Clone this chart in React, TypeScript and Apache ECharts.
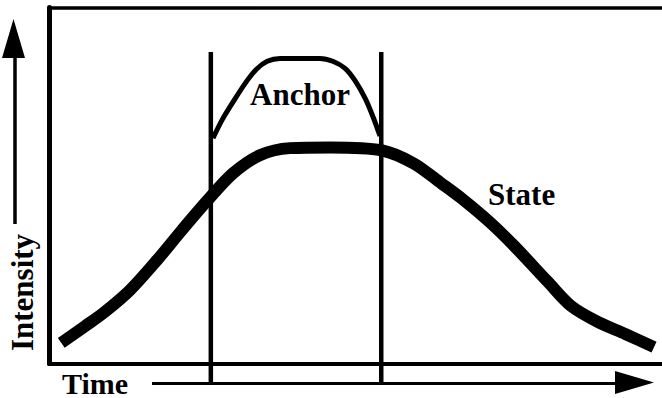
import React, { useEffect, useRef } from "react";
import * as echarts from "echarts";

// Thick "State" curve (time 0..100, intensity 0..100)
const stateX = [2, 5.9, 9.1, 13.2, 17.6, 21.7, 25.9, 30, 34.4, 39.3, 46, 54.2, 59.5, 64, 67.5, 71.9, 75.9, 81.4, 85.2, 89.6, 94, 98.7];
const stateY = [5.8, 10.5, 14.5, 20.6, 29, 37.5, 45.9, 53.4, 58.5, 60.5, 60.7, 59.9, 56.2, 50.6, 46.1, 39.7, 33, 22.9, 16.1, 11.6, 8.3, 4.6];

// Thin "Anchor" curve
const anchorX = [26.75, 28.2, 30, 32, 33.8, 35.6, 37.7, 41, 44.2, 46.3, 48.3, 49.9, 51.6, 52.9, 54];
const anchorY = [63.3, 68.3, 73.4, 78.7, 82.6, 84.9, 85.7, 85.7, 85.7, 84.9, 82.9, 79.5, 74.4, 69.1, 63.9];

// Vertical marker lines (anchor window)
const markerX = [26.4, 54.2];
const markerTop = 87.5;
const markerBottom = -5.5;

const anchorLabel = "Anchor";
const stateLabel = "State";
const xName = "Time";
const yName = "Intensity";

const FAMILY = "'Liberation Serif', 'Times New Roman', serif";

export default function App() {
  const ref = useRef<HTMLDivElement>(null);
  useEffect(() => {
    if (!ref.current) return;
    const chart = echarts.init(ref.current, undefined, { renderer: "svg" });
    const zip = (xs: number[], ys: number[]) => xs.map((x, i) => [x, ys[i]]);
    const hiddenAxis = {
      type: "value" as const,
      min: 0,
      max: 100,
      axisTick: { show: false },
      axisLabel: { show: false },
      splitLine: { show: false },
    };
    const txt = (text: string, x: number, y: number, align: string, size = 31, rotation = 0) => ({
      type: "text",
      x,
      y,
      rotation,
      style: {
        text,
        x: 0,
        y: 0,
        font: `bold ${size}px ${FAMILY}`,
        fill: "#000",
        align,
        verticalAlign: "middle",
        textAlign: align,
        textVerticalAlign: "middle",
      },
    });
    chart.setOption({
      animation: false,
      backgroundColor: "#fff",
      grid: { left: 49, right: 0, top: 7.5, bottom: 34.5 },
      xAxis: [
        { ...hiddenAxis, position: "bottom", axisLine: { show: true, onZero: false, lineStyle: { color: "#000", width: 4 } } },
        { ...hiddenAxis, position: "top", axisLine: { show: true, onZero: false, lineStyle: { color: "#000", width: 3.5 } } },
      ],
      yAxis: { ...hiddenAxis, axisLine: { show: true, onZero: false, lineStyle: { color: "#000", width: 5 } } },
      series: [
        ...markerX.map((mx) => ({
          type: "line",
          data: [[mx, markerTop], [mx, markerBottom]],
          clip: false,
          symbol: "none",
          lineStyle: { color: "#000", width: 4.5 },
        })),
        {
          type: "line",
          data: zip(anchorX, anchorY),
          smooth: 0.3,
          symbol: "none",
          lineStyle: { color: "#000", width: 5 },
        },
        {
          type: "line",
          data: zip(stateX, stateY),
          smooth: 0.3,
          symbol: "none",
          lineStyle: { color: "#000", width: 12 },
        },
      ],
      graphic: [
        { type: "line", shape: { x1: 15, y1: 55, x2: 15, y2: 224 }, style: { stroke: "#000", lineWidth: 3.5 } },
        { type: "polygon", shape: { points: [[13.5, 19], [2, 58], [25, 58]] }, style: { fill: "#000" } },
        { type: "line", shape: { x1: 152, y1: 383.5, x2: 618, y2: 383.5 }, style: { stroke: "#000", lineWidth: 3 } },
        { type: "polygon", shape: { points: [[615, 371], [654, 382.5], [615, 394]] }, style: { fill: "#000" } },
        txt(anchorLabel, 250, 94, "left"),
        txt(stateLabel, 488, 194, "left"),
        txt(xName, 62, 383, "left", 30),
        txt(yName, 22.5, 292.5, "center", 31, Math.PI / 2),
      ],
    });
    return () => chart.dispose();
  }, []);
  return <div ref={ref} style={{ position: "fixed", left: 0, top: 0, width: 662, height: 398 }} />;
}
